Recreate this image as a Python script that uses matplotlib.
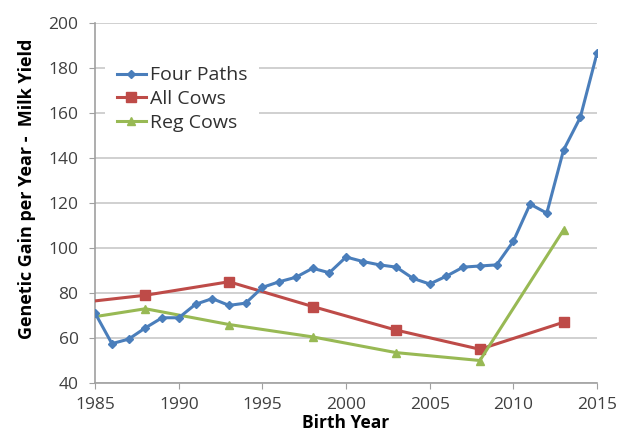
import matplotlib.pyplot as plt
import numpy as np

plt.rcParams['font.family'] = ['Open Sans', 'DejaVu Sans']

# Four Paths: every birth year 1985-2015
years_fp = np.arange(1985, 2016)
four_paths = [71, 57.5, 59.5, 64.5, 69, 69, 75, 77.5, 74.5, 75.5,
              82.5, 85, 87, 91, 89, 96, 94, 92.5, 91.5, 86.5,
              84, 87.5, 91.5, 92, 92.5, 103, 119.5, 115.5, 143.5, 158, 186.5]

# All Cows / Reg Cows: five-year steps
years_cows = [1985, 1988, 1993, 1998, 2003, 2008, 2013]
all_cows = [76.5, 79, 85, 74, 63.5, 55, 67]
reg_cows = [69.5, 73, 66, 60.5, 53.5, 50, 108]

x_ticks = [1985, 1990, 1995, 2000, 2005, 2010, 2015]
y_ticks = [40, 60, 80, 100, 120, 140, 160, 180, 200]

fig = plt.figure(figsize=(6.18, 4.32), dpi=100)
ax = fig.add_axes([0.154, 0.1134, 0.812, 0.8334])

ax.plot(years_fp, four_paths, color='#4a7ebb', lw=2.2, marker='D', ms=4,
        label='Four Paths', zorder=4)
ax.plot(years_cows, all_cows, color='#be4b48', lw=2.2, marker='s', ms=7,
        markevery=list(range(1, len(years_cows))), label='All Cows', zorder=3)
ax.plot(years_cows, reg_cows, color='#98b954', lw=2.2, marker='^', ms=6,
        markevery=list(range(1, len(years_cows))), label='Reg Cows', zorder=3)

ax.set_xlim(1985, 2015)
ax.set_ylim(40, 200)
ax.set_xticks(x_ticks)
ax.set_yticks(y_ticks)
ax.grid(axis='y', color='#c8c8c8', lw=1.2)
ax.set_axisbelow(True)

for side in ['top', 'right']:
    ax.spines[side].set_visible(False)
for side in ['left', 'bottom']:
    ax.spines[side].set_color('#a0a0a0')
    ax.spines[side].set_linewidth(1.2)

ax.tick_params(axis='both', colors='#a0a0a0', labelcolor='#404040',
               labelsize=12.5, length=4, direction='out')
ax.tick_params(axis='y', pad=8)
ax.tick_params(axis='x', pad=6)

ax.set_xlabel('Birth Year', fontsize=12.5, fontweight='bold', labelpad=1)
ax.set_ylabel('Genetic Gain per Year -  Milk Yield', fontsize=13,
              fontweight='bold', labelpad=9, y=0.54)

# white box behind the legend hides the gridlines, no visible border
leg = ax.legend(loc='upper left', bbox_to_anchor=(0.02, 0.912), frameon=True,
                facecolor='white', edgecolor='none', framealpha=1,
                fancybox=False, borderpad=0.6,
                fontsize=14, handlelength=1.5, handletextpad=0.2,
                labelspacing=0.3, borderaxespad=0)
for t in leg.get_texts():
    t.set_color('#303030')

fig.savefig('out.png', dpi=100)
